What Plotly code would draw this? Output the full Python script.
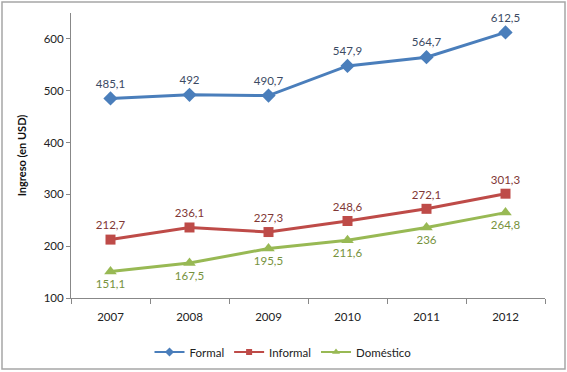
import plotly.graph_objects as go

years = ["2007", "2008", "2009", "2010", "2011", "2012"]
formal = [485.1, 492, 490.7, 547.9, 564.7, 612.5]
informal = [212.7, 236.1, 227.3, 248.6, 272.1, 301.3]
domestico = [151.1, 167.5, 195.5, 211.6, 236, 264.8]
y_ticks = [100, 200, 300, 400, 500, 600]

def fmt(v):
    s = ("%g" % v).replace(".", ",")
    return s

FONT = "Lato"
fig = go.Figure()
series = [
    ("Formal", formal, "#4A7EBB", "#3B4A63", "diamond", "top center", 11, 7),
    ("Informal", informal, "#BE4B48", "#7F3735", "square", "top center", 10, 6),
    ("Doméstico", domestico, "#98B954", "#76923C", "triangle-up", "bottom center", 11, 7),
]
for name, vals, col, tcol, sym, pos, ms, lms in series:
    fig.add_trace(go.Scatter(
        x=years, y=vals, name=name, mode="lines+markers+text",
        line=dict(color=col, width=3),
        marker=dict(symbol=sym, size=ms, color=col),
        text=[fmt(v) for v in vals], textposition=pos,
        textfont=dict(color=tcol, size=11.5, family=FONT),
        cliponaxis=False, showlegend=False,
    ))
for name, vals, col, tcol, sym, pos, ms, lms in series:
    fig.add_trace(go.Scatter(
        x=[None], y=[None], name=name, mode="lines+markers",
        line=dict(color=col, width=2),
        marker=dict(symbol=sym, size=lms, color=col),
        showlegend=True,
    ))

W, H = 474, 285
fig.update_layout(
    width=567, height=372,
    margin=dict(l=71, r=22, t=13, b=74, autoexpand=False),
    paper_bgcolor="white", plot_bgcolor="white",
    font=dict(family=FONT, size=11, color="#333333"),
    showlegend=True,
    legend=dict(orientation="h", x=(283 - 71) / W, xanchor="center", y=-54 / H, yanchor="middle",
                font=dict(size=11.5, family=FONT, color="#222222"),
                itemwidth=30, tracegroupgap=0),
    shapes=[dict(type="rect", xref="paper", yref="paper",
                 x0=-69 / W, x1=1 + 20 / W, y0=-71 / H, y1=1 + 11 / H,
                 line=dict(color="#A6A6A6", width=1.5), fillcolor="rgba(0,0,0,0)",
                 layer="below")],
)
fig.update_xaxes(
    type="category", showline=True, linecolor="#888888", linewidth=1,
    ticks="outside", tickson="boundaries", ticklen=5, tickcolor="#888888",
    showgrid=False, tickfont=dict(size=11.5, color="#222222", family=FONT),
    range=[-0.5, 5.5], zeroline=False, ticklabelstandoff=8,
)
fig.update_yaxes(
    range=[100, 650], tickvals=y_ticks, showline=True, linecolor="#888888", linewidth=1,
    ticks="outside", ticklen=4, tickcolor="#888888", showgrid=False, zeroline=False,
    tickfont=dict(size=11.5, color="#222222", family=FONT),
    title=dict(text="<b>Ingreso (en USD)</b>", font=dict(size=11, color="#111111", family=FONT), standoff=14),
)
fig.write_html("out.html", config={"displayModeBar": False},
               post_script="document.body.style.margin='0';")
